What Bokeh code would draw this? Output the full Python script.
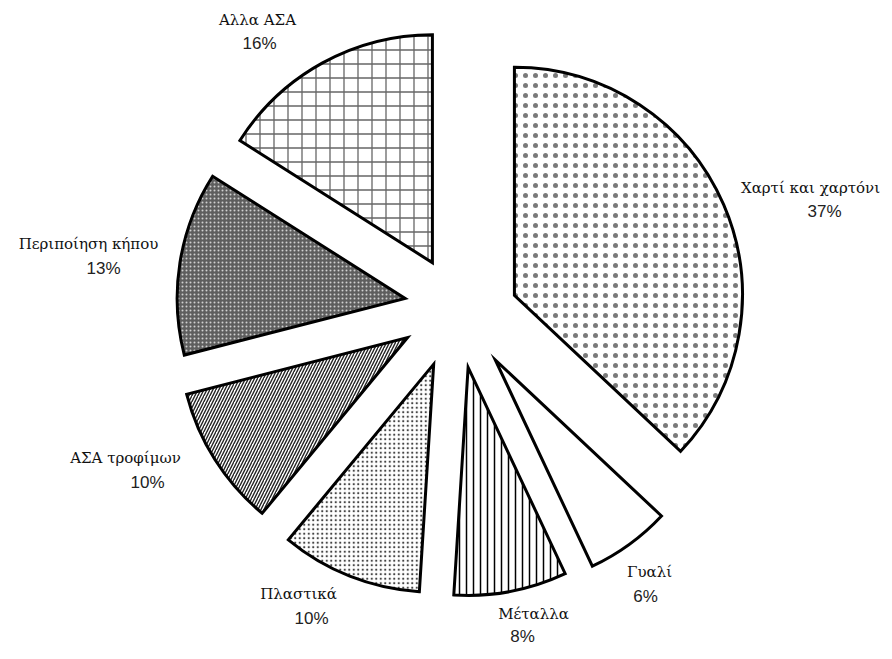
import math
from bokeh.plotting import figure
from bokeh.models import ColumnDataSource, Range1d
from bokeh.core.properties import value
from bokeh.embed import file_html
from bokeh.resources import INLINE

# ---- data ----
categories = ["Χαρτί και χαρτόνι", "Γυαλί", "Μέταλλα", "Πλαστικά",
              "ΑΣΑ τροφίμων", "Περιποίηση κήπου", "Αλλα ΑΣΑ"]
shares = [37, 6, 8, 10, 10, 13, 16]
pct_labels = ["37%", "6%", "8%", "10%", "10%", "13%", "16%"]

# ---- style / layout ----
W, H = 884, 651
CX, CY = 456, 659 - 306           # pie centre (data coords, y up)
RADIUS = 228
explode = [59, 66, 62, 62, 58, 52, 50]
explode_dir = [79, None, None, None, None, None, None]   # degrees clockwise from up; None = slice middle
fills = ["white", "white", "white", "white", "white", "#5e5e5e", "white"]
hatches = ["dot", "blank", "vertical_line", "dot", "right_diagonal_line", "dot", "cross"]
hatch_colors = ["#7a7a7a", "black", "black", "#444444", "#222222", "#d0d0d0", "#666666"]
hatch_scales = [10, 8, 7, 4.5, 6, 4, 14]
hatch_weights = [0.6, 1, 1.5, 1.3, 1.4, 1.6, 1.3]
# label anchors (page px) for name / percentage
name_pos = [(810, 187), (649, 571), (533, 613), (298, 593), (125, 457), (88, 243), (257, 19)]
pct_pos = [(824, 211), (645, 596), (522, 636), (311, 618), (147, 482), (103, 268), (259, 43)]

total = float(sum(shares))
xs, ys, starts, ends = [], [], [], []
acc = 0.0
for s, d, ed in zip(shares, explode, explode_dir):
    t1 = acc / total * 2 * math.pi          # clockwise from 12 o'clock
    acc += s
    t2 = acc / total * 2 * math.pi
    mid = (t1 + t2) / 2 if ed is None else math.radians(ed)
    xs.append(CX + d * math.sin(mid))
    ys.append(CY + d * math.cos(mid))
    starts.append(math.pi / 2 - t2)
    ends.append(math.pi / 2 - t1)

src = ColumnDataSource(dict(
    x=xs, y=ys, start=starts, end=ends, fill=fills, hatch=hatches,
    hcol=hatch_colors, hscale=hatch_scales, hweight=hatch_weights,
))

p = figure(width=W, height=H, output_backend="svg", toolbar_location=None,
           x_range=Range1d(0, W), y_range=Range1d(659 - H, 659),
           x_axis_type=None, y_axis_type=None, min_border=0)
p.grid.visible = False
p.outline_line_color = None
p.background_fill_color = "white"
p.border_fill_color = "white"

p.wedge(x="x", y="y", radius=RADIUS, start_angle="start", end_angle="end",
        source=src, fill_color="fill", line_color="black", line_width=3,
        hatch_pattern="hatch", hatch_color="hcol", hatch_scale="hscale",
        hatch_weight="hweight", line_join="miter")

lab = ColumnDataSource(dict(
    nx=[q[0] for q in name_pos], ny=[659 - q[1] for q in name_pos],
    px=[q[0] for q in pct_pos], py=[659 - q[1] for q in pct_pos],
    name=categories, pct=pct_labels,
))
p.text(x="nx", y="ny", text="name", source=lab, text_align="center",
       text_baseline="middle", text_font=value("DejaVu Serif"),
       text_font_size="15px", text_color="#111111")
p.text(x="px", y="py", text="pct", source=lab, text_align="center",
       text_baseline="middle", text_font=value("Liberation Sans"),
       text_font_size="17px", text_color="#222222")

open("out.html", "w").write(file_html(p, INLINE))
